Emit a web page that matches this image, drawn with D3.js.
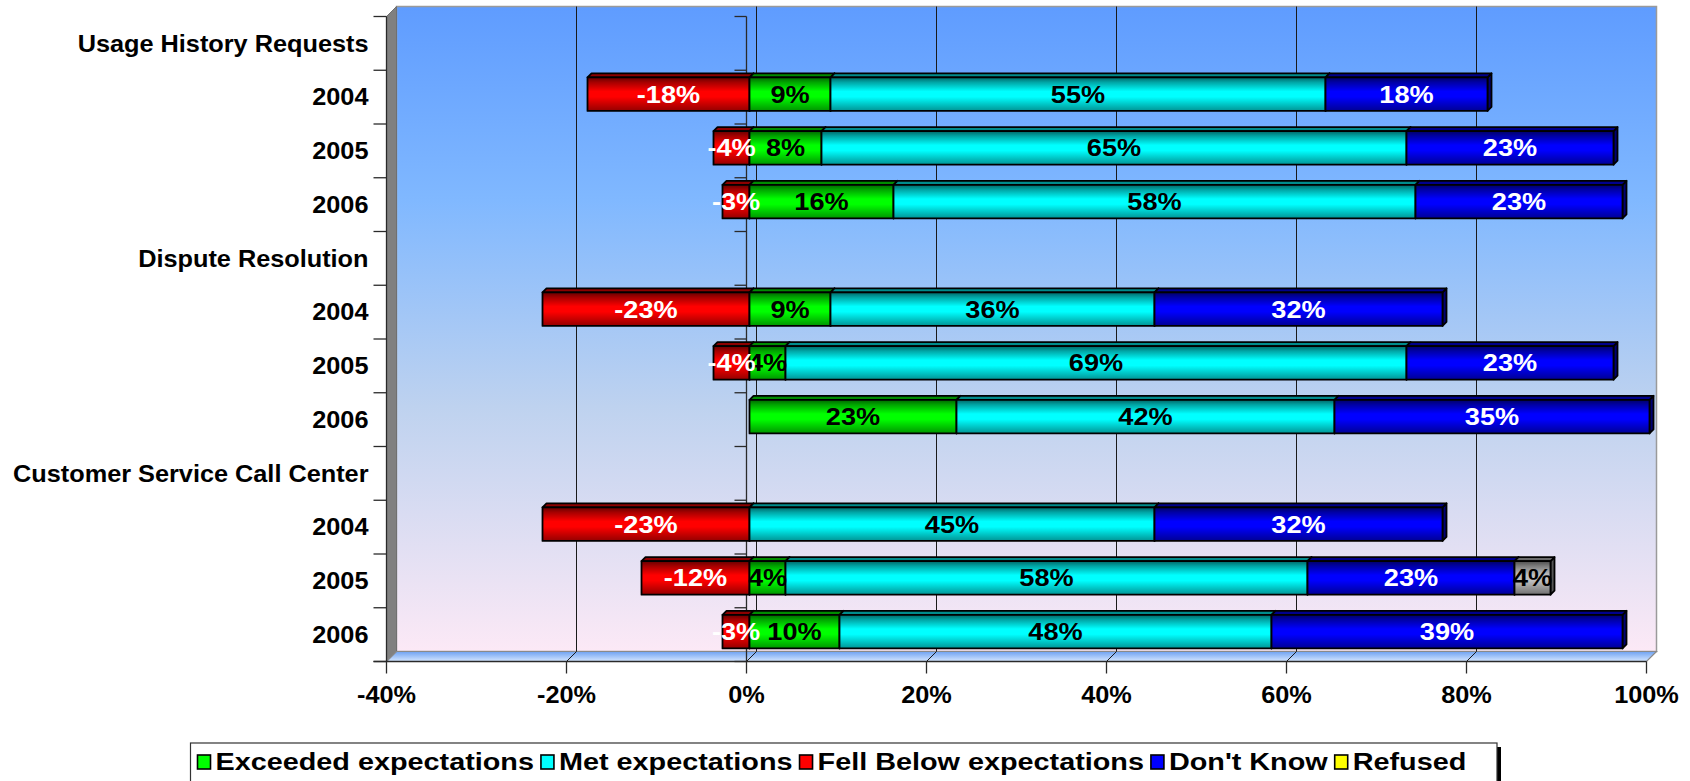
<!DOCTYPE html>
<html>
<head>
<meta charset="utf-8">
<script src="https://cdn.jsdelivr.net/npm/d3@7/dist/d3.min.js"></script>
<style>
  html, body { margin: 0; padding: 0; background: #ffffff; }
  svg { display: block; }
  text { font-family: "Liberation Sans", Arial, Helvetica, sans-serif; font-weight: bold; }
</style>
</head>
<body>
<svg id="chart" width="1690" height="781"></svg>
<script>
// Row labels: a group heading followed by its three survey years
const rowLabels = [
  "Usage History Requests", "2004", "2005", "2006",
  "Dispute Resolution", "2004", "2005", "2006",
  "Customer Service Call Center", "2004", "2005", "2006"
];
// Percentages per row (heading rows carry no values)
const exceeded  = [0,   9,  8, 16, 0,   9,  4, 23, 0,   0,   4, 10];
const met       = [0,  55, 65, 58, 0,  36, 69, 42, 0,  45,  58, 48];
const fellBelow = [0, -18, -4, -3, 0, -23, -4,  0, 0, -23, -12, -3];
const dontKnow  = [0,  18, 23, 23, 0,  32, 23, 35, 0,  32,  23, 39];
const refused   = [0,   0,  0,  0, 0,   0,  0,  0, 0,   0,   4,  0];

const seriesKeys   = ["exceeded", "met", "fellBelow", "dontKnow", "refused"];
const seriesNames  = ["Exceeded expectations", "Met expectations", "Fell Below expectations", "Don't Know", "Refused"];
const barColors    = ["#00FF00", "#00FFFF", "#FF0000", "#0000FF", "#C0C0C0"];
const legendColors = ["#00FF00", "#00FFFF", "#FF0000", "#0000FF", "#FFFF00"];
const labelColors  = ["#000000", "#000000", "#FFFFFF", "#FFFFFF", "#000000"];
const xTickValues  = [-40, -20, 0, 20, 40, 60, 80, 100];

const table = rowLabels.map((label, i) => ({
  row: i, label,
  exceeded: exceeded[i], met: met[i], fellBelow: fellBelow[i],
  dontKnow: dontKnow[i], refused: refused[i]
}));

const svg = d3.select("#chart");
const defs = svg.append("defs");

// Scales for the front plane of the 3-D box
const x = d3.scaleLinear().domain([-40, 100]).range([386.5, 1646.5]);
const y = d3.scaleBand().domain(d3.range(rowLabels.length))
  .range([16.5, 661.5]).paddingInner(0.375).paddingOuter(0.1875);
const step = y.step();
const D = 10;                     // depth of the box (shift right / up)
const zFront = 0.3, zBack = 0.7;  // bar depth inside the box
const plotTop = y.range()[0], plotBottom = y.range()[1];
const xl = x(-40), xr = x(100);

// ---------- gradients ----------
const wallGrad = defs.append("linearGradient").attr("id", "wallGrad")
  .attr("x1", 0).attr("y1", 0).attr("x2", 0).attr("y2", 1);
[[0, "#5F9CFF"], [0.3, "#80B8FF"], [0.62, "#BED2EF"], [1, "#FCE9F6"]]
  .forEach(([o, c]) => wallGrad.append("stop").attr("offset", o).attr("stop-color", c));

const floorGrad = defs.append("linearGradient").attr("id", "floorGrad")
  .attr("x1", 0).attr("y1", 0).attr("x2", 0).attr("y2", 1);
[[0, "#6EA2F2"], [1, "#D6E7FF"]]
  .forEach(([o, c]) => floorGrad.append("stop").attr("offset", o).attr("stop-color", c));

const mix = (c, k) => d3.interpolateRgb(c, "#000000")(k);
barColors.forEach((c, i) => {
  const g = defs.append("linearGradient").attr("id", "front-" + i)
    .attr("x1", 0).attr("y1", 0).attr("x2", 0).attr("y2", 1);
  [[0, mix(c, 0.6)], [0.15, mix(c, 0.35)], [0.42, c], [0.58, c], [1, mix(c, 0.42)]]
    .forEach(([o, col]) => g.append("stop").attr("offset", o).attr("stop-color", col));
});

// ---------- walls and floor ----------
svg.append("rect")
  .attr("x", xl + D).attr("y", plotTop - D)
  .attr("width", xr - xl).attr("height", plotBottom - plotTop)
  .attr("fill", "url(#wallGrad)").attr("stroke", "#9A9A9A").attr("stroke-width", 1.5);

svg.append("polygon")
  .attr("points", [[xl, plotTop], [xl + D, plotTop - D], [xl + D, plotBottom - D], [xl, plotBottom]].join(" "))
  .attr("fill", "#808080").attr("stroke", "#707070").attr("stroke-width", 1);

svg.append("polygon")
  .attr("points", [[xl + D, plotBottom - D], [xr + D, plotBottom - D], [xr, plotBottom], [xl, plotBottom]].join(" "))
  .attr("fill", "url(#floorGrad)").attr("stroke", "#8A8A8A").attr("stroke-width", 1.2);

// gridlines on the back wall, continuing across the floor
svg.append("g").selectAll("path")
  .data(xTickValues.filter(v => v > -40 && v < 100))
  .join("path")
  .attr("d", v => `M${x(v) + D},${plotTop - D}V${plotBottom - D}L${x(v)},${plotBottom}`)
  .attr("fill", "none").attr("stroke", "#1A1A1A").attr("stroke-width", 1);

// ---------- axes ----------
const axisG = svg.append("g").attr("stroke", "#2A2A2A").attr("stroke-width", 1.3).attr("fill", "none");
axisG.append("path").attr("d", `M${xl},${plotTop}V${plotBottom}`);
axisG.append("path").attr("d", `M${xl - 13},${plotBottom}H${xr}`);
axisG.append("path").attr("d", `M${x(0)},${plotTop}V${plotBottom}`);
const bounds = d3.range(rowLabels.length + 1).map(k => plotTop + k * step);
bounds.forEach(b => {
  axisG.append("path").attr("d", `M${xl - 13},${b}H${xl}`);
  axisG.append("path").attr("d", `M${x(0) - 12},${b}H${x(0)}`);
});
xTickValues.forEach(v => axisG.append("path").attr("d", `M${x(v)},${plotBottom}V${plotBottom + 12}`));

// stretched bold text helper
function label(g, px, py, str, size, sx, anchor, fill) {
  return g.append("text")
    .attr("transform", `translate(${px},${py}) scale(${sx},1)`)
    .attr("text-anchor", anchor).attr("font-size", size)
    .attr("fill", fill).text(str);
}

const textG = svg.append("g");
rowLabels.forEach((t, i) => {
  label(textG, 368.5, y(i) + y.bandwidth() / 2 + 8.2, t, 23, 1.1, "end", "#000");
});
xTickValues.forEach(v => {
  label(textG, x(v), 703, v + "%", 23, 1.1, "middle", "#000");
});

// ---------- bars ----------
const stacked = d3.stack().keys(seriesKeys).offset(d3.stackOffsetDiverging)(table);
const segments = [];
stacked.forEach((s, si) => {
  s.forEach(p => {
    const v = p.data[seriesKeys[si]];
    if (!v) return;
    segments.push({ si, row: p.data.row, v0: Math.min(p[0], p[1]), v1: Math.max(p[0], p[1]), value: v });
  });
});

const proj = (px, py, z) => [px + z * D, py - z * D];
const barG = svg.append("g")
  .attr("stroke", "#000").attr("stroke-width", 1.8).attr("stroke-linejoin", "round");

d3.groups(segments, d => d.row).forEach(([row, segs]) => {
  segs.sort((a, b) => a.v0 - b.v0);
  const y0 = y(row), y1 = y(row) + y.bandwidth();
  segs.forEach(sg => {
    const X0 = x(sg.v0), X1 = x(sg.v1);
    const c = barColors[sg.si];
    const fTL = proj(X0, y0, zFront), fTR = proj(X1, y0, zFront);
    const fBR = proj(X1, y1, zFront);
    const bTL = proj(X0, y0, zBack), bTR = proj(X1, y0, zBack), bBR = proj(X1, y1, zBack);
    // right face
    barG.append("polygon")
      .attr("points", [fTR, bTR, bBR, fBR].join(" "))
      .attr("fill", mix(c, 0.55));
    // top face
    barG.append("polygon")
      .attr("points", [fTL, bTL, bTR, fTR].join(" "))
      .attr("fill", mix(c, 0.45));
    // front face
    barG.append("rect")
      .attr("x", fTL[0]).attr("y", fTL[1])
      .attr("width", X1 - X0).attr("height", y1 - y0)
      .attr("fill", `url(#front-${sg.si})`);
  });
});

// value labels, series by series
const valG = svg.append("g");
seriesKeys.forEach((k, si) => {
  segments.filter(s => s.si === si).forEach(sg => {
    const cx = (x(sg.v0) + x(sg.v1)) / 2 + zFront * D;
    const cy = y(sg.row) + y.bandwidth() / 2 - zFront * D;
    label(valG, cx, cy + 8.6, sg.value + "%", 23, 1.18, "middle", labelColors[si]);
  });
});

// ---------- legend ----------
const lg = svg.append("g");
const boxX = 190.5, boxY = 743, boxR = 1497;
lg.append("rect").attr("x", boxX + 4).attr("y", boxY + 4)
  .attr("width", boxR - boxX).attr("height", 60).attr("fill", "#000");
lg.append("rect").attr("x", boxX).attr("y", boxY)
  .attr("width", boxR - boxX).attr("height", 60)
  .attr("fill", "#fff").attr("stroke", "#333").attr("stroke-width", 1.2);

let cursor = boxX + 7;
seriesNames.forEach((name, i) => {
  lg.append("rect").attr("x", cursor).attr("y", 755)
    .attr("width", 13).attr("height", 14)
    .attr("fill", legendColors[i]).attr("stroke", "#000").attr("stroke-width", 1.6);
  const t = label(lg, cursor + 18, 770, name, 24, 1.2, "start", "#000");
  cursor += 18 + t.node().getComputedTextLength() * 1.2 + 7;
});
</script>
</body>
</html>
